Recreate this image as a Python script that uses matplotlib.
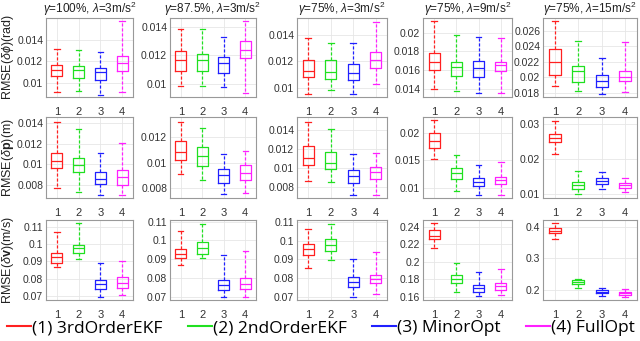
import numpy as np
import matplotlib.pyplot as plt
from matplotlib.lines import Line2D
from matplotlib.ticker import FuncFormatter

plt.rcParams['font.family'] = ['Liberation Sans', 'DejaVu Sans']
plt.rcParams['mathtext.fontset'] = 'custom'
plt.rcParams['mathtext.rm'] = 'Liberation Sans'
plt.rcParams['mathtext.it'] = 'Liberation Sans:italic'
plt.rcParams['mathtext.bf'] = 'Liberation Sans:bold'

methods = ['(1) 3rdOrderEKF', '(2) 2ndOrderEKF', '(3) MinorOpt', '(4) FullOpt']
colors = ['#ff2020', '#20e020', '#2020ff', '#ff20ff']

titles = [r'$\gamma$=100%, $\lambda$=3m/s$^2$', r'$\gamma$=87.5%, $\lambda$=3m/s$^2$',
          r'$\gamma$=75%, $\lambda$=3m/s$^2$', r'$\gamma$=75%, $\lambda$=9m/s$^2$',
          r'$\gamma$=75%, $\lambda$=15m/s$^2$']
ylabels = [r'RMSE($\delta\phi$)(rad)', r'RMSE($\delta\mathbf{p}$)(m)', r'RMSE($\delta\mathbf{v}$)(m/s)']

# five-number summaries per box: [whisker low, q1, median, q3, whisker high]
# row 1: attitude error
att = [
    [[0.0092, 0.0106, 0.0112, 0.0117, 0.0131], [0.0093, 0.0105, 0.0112, 0.0116, 0.0130],
     [0.0089, 0.0103, 0.0110, 0.0114, 0.0129], [0.0092, 0.0111, 0.0118, 0.0125, 0.0157]],
    [[0.0099, 0.0109, 0.0117, 0.0123, 0.0138], [0.0099, 0.0109, 0.0117, 0.0121, 0.0138],
     [0.0098, 0.0108, 0.0115, 0.0119, 0.0133], [0.0094, 0.0118, 0.0124, 0.0130, 0.0144]],
    [[0.0095, 0.0108, 0.0113, 0.0121, 0.0138], [0.0098, 0.0107, 0.0112, 0.0121, 0.0134],
     [0.0095, 0.0106, 0.0111, 0.0118, 0.0134], [0.0103, 0.0115, 0.0121, 0.0127, 0.0150]],
    [[0.0140, 0.0160, 0.0169, 0.0178, 0.0213], [0.0137, 0.0154, 0.0163, 0.0169, 0.0198],
     [0.0135, 0.0153, 0.0162, 0.0170, 0.0196], [0.0135, 0.0159, 0.0165, 0.0169, 0.0195]],
    [[0.0189, 0.0203, 0.0220, 0.0237, 0.0272], [0.0183, 0.0194, 0.0208, 0.0215, 0.0246],
     [0.0179, 0.0188, 0.0196, 0.0203, 0.0225], [0.0182, 0.0195, 0.0201, 0.0208, 0.0245]],
]
# row 2: position error
pos = [
    [[0.0077, 0.0096, 0.0103, 0.0111, 0.0141], [0.0073, 0.0092, 0.0099, 0.0106, 0.0134],
     [0.0070, 0.0081, 0.0086, 0.0092, 0.0111], [0.0070, 0.0080, 0.0087, 0.0094, 0.0121]],
    [[0.0091, 0.0102, 0.0108, 0.0117, 0.0132], [0.0086, 0.0097, 0.0105, 0.0112, 0.0127],
     [0.0075, 0.0084, 0.0090, 0.0095, 0.0107], [0.0076, 0.0086, 0.0092, 0.0098, 0.0109]],
    [[0.0087, 0.0103, 0.0110, 0.0123, 0.0148], [0.0086, 0.0099, 0.0105, 0.0117, 0.0141],
     [0.0072, 0.0085, 0.0092, 0.0098, 0.0115], [0.0072, 0.0089, 0.0096, 0.0101, 0.0116]],
    [[0.0153, 0.0173, 0.0186, 0.0199, 0.0223], [0.0093, 0.0116, 0.0126, 0.0136, 0.0159],
     [0.0087, 0.0103, 0.0111, 0.0117, 0.0142], [0.0087, 0.0106, 0.0114, 0.0120, 0.0147]],
    [[0.0216, 0.0249, 0.0260, 0.0273, 0.0311], [0.0100, 0.0117, 0.0128, 0.0137, 0.0166],
     [0.0115, 0.0130, 0.0139, 0.0146, 0.0165], [0.0106, 0.0118, 0.0126, 0.0132, 0.0147]],
]
# row 3: velocity error
vel = [
    [[0.0865, 0.0892, 0.0923, 0.0950, 0.1071], [0.0912, 0.0946, 0.0975, 0.0994, 0.1119],
     [0.0692, 0.0738, 0.0769, 0.0792, 0.0892], [0.0706, 0.0744, 0.0777, 0.0808, 0.0902]],
    [[0.0871, 0.0904, 0.0927, 0.0954, 0.1052], [0.0904, 0.0930, 0.0961, 0.0989, 0.1086],
     [0.0698, 0.0737, 0.0764, 0.0791, 0.0920], [0.0700, 0.0743, 0.0770, 0.0800, 0.0945]],
    [[0.0851, 0.0924, 0.0955, 0.0982, 0.1061], [0.0897, 0.0942, 0.0976, 0.1009, 0.1086],
     [0.0697, 0.0752, 0.0779, 0.0805, 0.0900], [0.0716, 0.0774, 0.0797, 0.0814, 0.0940]],
    [[0.2158, 0.2253, 0.2291, 0.2358, 0.2445], [0.1653, 0.1755, 0.1800, 0.1849, 0.1989],
     [0.1604, 0.1653, 0.1698, 0.1736, 0.1887], [0.1623, 0.1679, 0.1728, 0.1755, 0.1917]],
    [[0.3615, 0.3792, 0.3875, 0.3948, 0.4104], [0.2073, 0.2198, 0.2250, 0.2302, 0.2354],
     [0.1813, 0.1896, 0.1948, 0.2000, 0.2073], [0.1781, 0.1844, 0.1896, 0.1948, 0.2021]],
]
data = [att, pos, vel]

ylims = [
    [(0.0087, 0.0160), (0.0091, 0.0146), (0.0093, 0.0153), (0.0131, 0.0216), (0.0175, 0.0276)],
    [(0.0067, 0.0146), (0.0072, 0.0136), (0.0069, 0.0153), (0.0081, 0.0229), (0.0090, 0.0321)],
    [(0.0677, 0.1138), (0.0682, 0.1109), (0.0682, 0.1110), (0.1563, 0.2475), (0.168, 0.421)],
]
yticks = [
    [[0.01, 0.012, 0.014]] * 3 + [[0.014, 0.016, 0.018, 0.02], [0.018, 0.02, 0.022, 0.024, 0.026]],
    [[0.008, 0.01, 0.012, 0.014], [0.008, 0.01, 0.012], [0.008, 0.01, 0.012, 0.014],
     [0.01, 0.015, 0.02], [0.01, 0.02, 0.03]],
    [[0.07, 0.08, 0.09, 0.1, 0.11]] * 3 + [[0.16, 0.18, 0.2, 0.22, 0.24], [0.2, 0.3, 0.4]],
]

W, H = 640, 341
fig = plt.figure(figsize=(6.4, 3.41), dpi=100)
lefts = [46, 170, 297, 423, 543]
widths = [87, 86, 90, 89, 94]
tops = [18, 117, 220]
heights = [79, 81, 80]
fmt = FuncFormatter(lambda v, p: '{:g}'.format(round(v, 6)))

for r in range(3):
    for c in range(5):
        ax = fig.add_axes([lefts[c] / W, 1 - (tops[r] + heights[r]) / H, widths[c] / W, heights[r] / H])
        for k in range(4):
            lo, q1, med, q3, hi = data[r][c][k]
            st = [dict(whislo=lo, q1=q1, med=med, q3=q3, whishi=hi, fliers=[])]
            col = colors[k]
            ax.bxp(st, positions=[k + 1], widths=0.5, showfliers=False,
                   boxprops=dict(color=col, lw=0.9),
                   medianprops=dict(color=col, lw=0.9),
                   whiskerprops=dict(color=col, lw=0.9, ls=(0, (2.5, 1.5))),
                   capprops=dict(color=col, lw=0.9))
        ax.set_xlim(0.5, 4.5)
        ax.set_ylim(*ylims[r][c])
        ax.set_xticks([1, 2, 3, 4])
        ax.set_xticklabels(['1', '2', '3', '4'])
        ax.set_yticks(yticks[r][c])
        ax.yaxis.set_major_formatter(fmt)
        ax.grid(True, color='#e6e6e6', lw=0.6)
        ax.set_axisbelow(True)
        ax.tick_params(length=0, labelsize=7.5, colors='#333333', pad=2)
        ax.tick_params(axis='x', labelsize=8, pad=7)
        for s in ax.spines.values():
            s.set_color('#999999')
            s.set_linewidth(0.8)
        if r == 0:
            ax.set_title(titles[c], fontsize=8.5, pad=3, color='#222222')
        if c == 0:
            ax.set_ylabel(ylabels[r], fontsize=9, color='#222222')
            ax.yaxis.set_label_coords(-30 / widths[0], 0.5)

handles = [Line2D([], [], color=col, lw=1.5) for col in colors]
fig.legend(handles, methods, loc='center', bbox_to_anchor=(321 / W, 13 / H), ncol=4,
           frameon=False, handlelength=1.4, handletextpad=0.05,
           columnspacing=1.45, borderpad=0, prop={'family': 'Open Sans', 'size': 12.5})

fig.savefig('out.png', dpi=100)
